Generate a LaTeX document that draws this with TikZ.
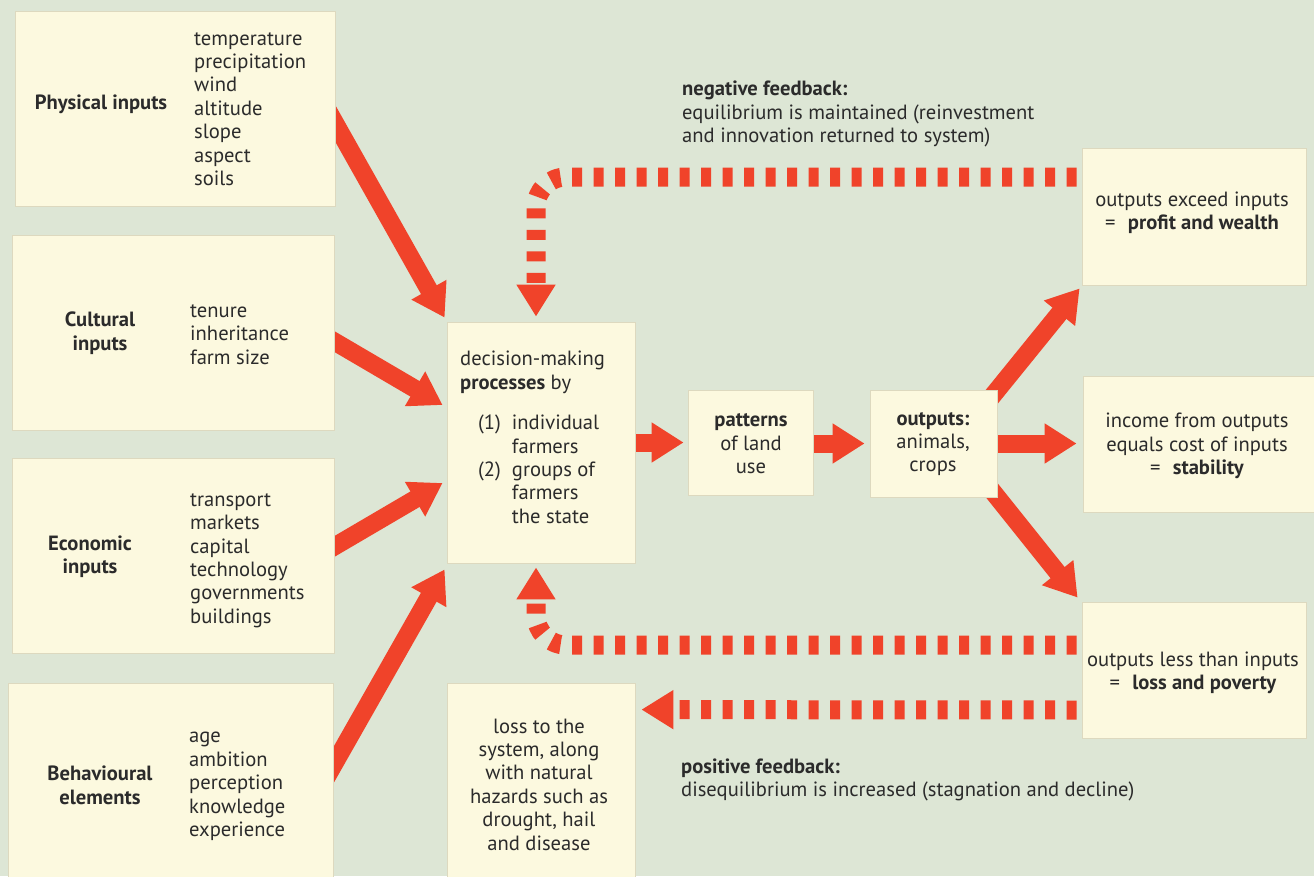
\documentclass[tikz,border=0pt]{standalone}
\usepackage{fontspec}
\setmainfont{PT Sans}
\usetikzlibrary{arrows.meta,calc}
\definecolor{bgc}{HTML}{DDE6D5}
\definecolor{boxc}{HTML}{FCF9DF}
\definecolor{edgec}{HTML}{DDD9BF}
\definecolor{redc}{HTML}{F0432A}
\definecolor{txtc}{HTML}{2B2B2B}
\pgfdeclarelayer{back}
\pgfdeclarelayer{flows}
\pgfsetlayers{back,flows,main}
\newcommand{\bodyfont}{\fontsize{20.6}{23.4}\selectfont}
\begin{document}
\begin{tikzpicture}[x=1pt,y=-1pt,
  panel/.style={draw=edgec, line width=0.8pt, fill=boxc, inner sep=0pt},
  txt/.style={font=\bodyfont, text=txtc, inner sep=0pt},
  ltxt/.style={txt, align=left, anchor=west},
  ctxt/.style={txt, align=center},
  flow/.style={draw=redc, line width=18pt,
    -{Triangle[length=32pt,width=38pt]}},
  feedback/.style={draw=redc, line width=19pt, dash pattern=on 10pt off 11.5pt,
    -{Triangle[length=32pt,width=37pt]}},
]
\useasboundingbox (0,0) rectangle (1314,876);
\clip (0,0) rectangle (1314,876);
\begin{pgfonlayer}{back}
  \fill[bgc] (0,0) rectangle (1314,876);
\end{pgfonlayer}

% boxes
\node[panel, minimum width=320pt, minimum height=195pt] (phys) at (175,108.5) {};
\node[panel, minimum width=322pt, minimum height=195pt] (cult) at (173,332.5) {};
\node[panel, minimum width=322pt, minimum height=195pt] (econ) at (173,555.5) {};
\node[panel, minimum width=325pt, minimum height=197pt] (behav) at (170.5,781.5) {};
\node[panel, minimum width=188pt, minimum height=241pt] (dec) at (541,442.5) {};
\node[panel, minimum width=125pt, minimum height=105pt] (pat) at (750.5,442.5) {};
\node[panel, minimum width=127pt, minimum height=107pt] (outp) at (933.5,443.5) {};
\node[panel, minimum width=224pt, minimum height=137pt] (profit) at (1194,216.5) {};
\node[panel, minimum width=235pt, minimum height=136pt] (stab) at (1200.5,444) {};
\node[panel, minimum width=224pt, minimum height=136pt] (loss) at (1194,670) {};
\node[panel, minimum width=188pt, minimum height=197pt] (system) at (541,781.5) {};

% texts of the input boxes
\node[ctxt, font=\bodyfont\bfseries] (physT) at (101,104) {Physical inputs};
\node[ltxt] (physL) at (194,109) {temperature\\precipitation\\wind\\altitude\\slope\\aspect\\soils};
\node[ctxt, font=\bodyfont\bfseries] (cultT) at (100,333) {Cultural\\inputs};
\node[ltxt] (cultL) at (190,334.5) {tenure\\inheritance\\farm size};
\node[ctxt, font=\bodyfont\bfseries] (econT) at (90,557) {Economic\\inputs};
\node[ltxt] (econL) at (190,560.5) {transport\\markets\\capital\\technology\\governments\\buildings};
\node[ctxt, font=\bodyfont\bfseries] (behavT) at (100,785.5) {Behavioural\\elements};
\node[ltxt] (behavL) at (189,786.5) {age\\ambition\\perception\\knowledge\\experience};

% decision box
\node[txt, anchor=west] (decT) at (460,440) {%
  \begin{tabular}{@{}l@{\hspace{11pt}}l@{}}
  \multicolumn{2}{@{}l@{}}{decision-making}\\
  \multicolumn{2}{@{}l@{}}{\textbf{processes} by}\\[17pt]
  \hspace{18pt}(1) & individual\\
   & farmers\\
  \hspace{18pt}(2) & groups of\\
   & farmers\\
   & the state
  \end{tabular}};

\node[ctxt] (patT) at (751,444) {\textbf{patterns}\\of land\\use};
\node[ctxt] (outpT) at (933,444) {\textbf{outputs:}\\animals,\\crops};
\node[ctxt] (profitT) at (1192,213) {outputs exceed inputs\\=\hspace{0.6em}\textbf{profit and wealth}};
\node[ctxt] (stabT) at (1197,446) {income from outputs\\equals cost of inputs\\=\hspace{0.6em}\textbf{stability}};
\node[ctxt] (lossT) at (1193,673) {outputs less than inputs\\=\hspace{0.6em}\textbf{loss and poverty}};
\node[ctxt] (systemT) at (539,784.5) {loss to the\\system, along\\with natural\\hazards such as\\drought, hail\\and disease};

\node[ltxt] (negT) at (682,114) {\textbf{negative feedback:}\\equilibrium is maintained (reinvestment\\and innovation returned to system)};
\node[ltxt] (posT) at (681,780) {\textbf{positive feedback:}\\disequilibrium is increased (stagnation and decline)};

% flows (drawn beneath the boxes)
\begin{pgfonlayer}{flows}
  \draw[flow] ($(phys.east)+(-15,-11.5)$) -- ($(dec.north west)+(-2,-4)$);
  \draw[flow] ($(cult.east)+(-18,-1.5)$) -- ($(dec.west)+(-4,-37.5)$);
  \draw[flow] ($(econ.east)+(-18,1.5)$) -- ($(dec.west)+(-4,40.5)$);
  \draw[flow] ($(behav.east)+(-11.5,4)$) -- ($(dec.south west)+(-2,6)$);
  \draw[flow] ($(dec.east)+(-5,0)$) -- ($(pat.west)+(-4,0)$);
  \draw[flow] ($(pat.east)+(-5,1)$) -- ($(outp.west)+(-5,0)$);
  \draw[flow] ($(outp.east)+(-5,0)$) -- ($(stab.west)+(-6,-0.5)$);
  \draw[flow] ($(outp.north east)+(-12,15)$) -- ($(profit.south west)+(-2,3)$);
  \draw[flow] ($(outp.south east)+(-12,-15)$) -- ($(loss.north west)+(-4,-4)$);

  \draw[feedback, rounded corners=30pt] ($(profit.west)+(-5,-39.5)$) -| ($(dec.north)+(-5,-5)$);
  \draw[feedback, rounded corners=30pt] ($(loss.west)+(-5,-25)$) -| ($(dec.south)+(-5,4)$);
  \draw[feedback] ($(loss.west)+(-5,40)$) -- ($(system.north east)+(6,27)$);
\end{pgfonlayer}
\end{tikzpicture}
\end{document}
